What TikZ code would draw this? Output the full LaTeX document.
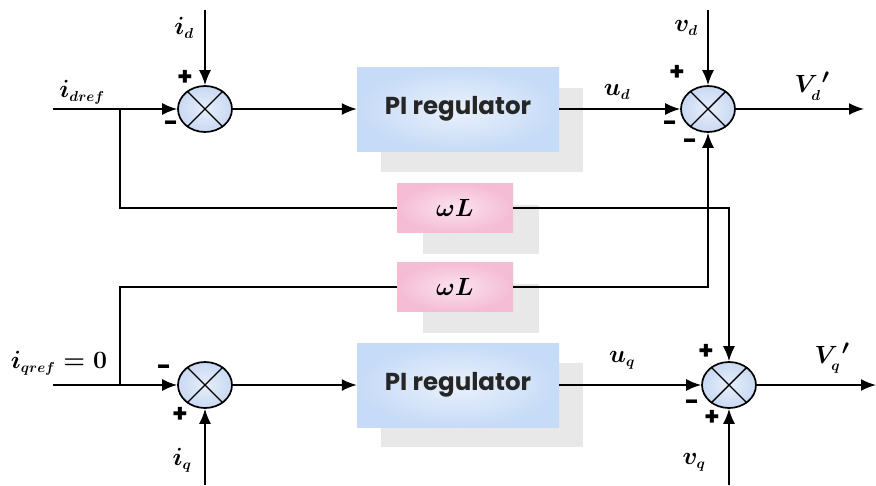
\documentclass[tikz,border=0pt]{standalone}
\usepackage{fontspec}
\newfontfamily\pifont{Poppins}
\newfontfamily\sgnfont{Poppins}
\usetikzlibrary{shapes.geometric,arrows.meta}
\definecolor{sumfill}{HTML}{C9D9F2}
\definecolor{sumin}{HTML}{E6EEFA}
\definecolor{piin}{HTML}{EAF1FC}
\definecolor{piout}{HTML}{C6DBF7}
\definecolor{wlin}{HTML}{FBE3EE}
\definecolor{wlout}{HTML}{F5BCD5}
\definecolor{shad}{HTML}{E8E8E8}
\tikzset{
  wire/.style={line width=1.7pt,black},
  arr/.style={wire,-{Latex[length=15pt,width=12pt]}},
  sumj/.style={ellipse,draw,line width=1.7pt,minimum width=54pt,minimum height=46pt,inner sep=0pt,inner color=sumin,outer color=sumfill},
  pibox/.style={rectangle,minimum width=202pt,minimum height=84pt,inner color=piin,outer color=piout,font=\pifont\bfseries\fontsize{24.5}{28}\selectfont,text=black!85},
  wlbox/.style={rectangle,minimum width=116pt,minimum height=49pt,inner color=wlin,outer color=wlout,font=\boldmath\fontsize{26}{30}\selectfont},
  shadowbox/.style={rectangle,fill=shad,inner sep=0pt},
  lbl/.style={font=\boldmath\fontsize{30}{34}\selectfont,inner sep=0pt},
  sgn/.style={font=\sgnfont\bfseries\fontsize{25}{28}\selectfont,inner sep=0pt}
}
\begin{document}
\begin{tikzpicture}[x=1pt,y=-1pt]
\useasboundingbox[fill=white] (0,0) rectangle (876,485);
% shadows
\node[shadowbox,minimum width=202pt,minimum height=84pt] (pi1s) at (482,130) {};
\node[shadowbox,minimum width=202pt,minimum height=84pt] (pi2s) at (482,405) {};
\node[shadowbox,minimum width=116pt,minimum height=49pt] (wl1s) at (481,229) {};
\node[shadowbox,minimum width=116pt,minimum height=49pt] (wl2s) at (481,308) {};
% blocks
\node[pibox] (pi1) at (458,109) {PI regulator};
\node[pibox] (pi2) at (458,385) {PI regulator};
\node[wlbox] (wl1) at (455,208) {$\omega L$};
\node[wlbox] (wl2) at (455,287) {$\omega L$};
% summing junctions
\node[sumj] (s1) at (205,109) {};
\node[sumj] (s2) at (708,109) {};
\node[sumj] (s3) at (205,385) {};
\node[sumj] (s4) at (729,385) {};
\foreach \s in {s1,s2,s3,s4}{
  \draw[line width=1.4pt] (\s.45) -- (\s.225) (\s.135) -- (\s.315);
}
% free ends
\coordinate (din) at (53,109);
\coordinate (bd) at (120,109);
\coordinate (qin) at (53,385);
\coordinate (bq) at (120,385);
\coordinate (idt) at (205,10);
\coordinate (iqb) at (205,485);
\coordinate (vdt) at (708,10);
\coordinate (vqb) at (729,485);
\coordinate (vdo) at (864,109);
\coordinate (vqo) at (876,385);
% connectors
\draw[arr] (din) -- (s1.west);
\draw[wire] (bd) |- (wl1.west);
\draw[arr] (idt) -- (s1.north);
\draw[arr] (s1.east) -- (pi1.west);
\draw[arr] (pi1.east) -- (s2.west);
\draw[arr] (vdt) -- (s2.north);
\draw[arr] (s2.east) -- (vdo);
\draw[arr] (wl2.east) -| (s2.south);
\draw[arr] (wl1.east) -| (s4.north);
\draw[arr] (qin) -- (s3.west);
\draw[wire] (bq) |- (wl2.west);
\draw[arr] (iqb) -- (s3.south);
\draw[arr] (s3.east) -- (pi2.west);
\draw[arr] (pi2.east) -- (s4.west);
\draw[arr] (vqb) -- (s4.south);
\draw[arr] (s4.east) -- (vqo);
% labels
\node[lbl] (lid) at (184,28) {$i_{\scriptscriptstyle d}$};
\node[lbl] (lidref) at (82,92) {$i_{\scriptscriptstyle dref}$};
\node[lbl] (liqref) at (59,363) {$i_{\scriptscriptstyle qref}=0$};
\node[lbl] (liq) at (182,460) {$i_{\scriptscriptstyle q}$};
\node[lbl] (lud) at (617,92) {$u_{\scriptscriptstyle d}$};
\node[lbl] (luq) at (622,360) {$u_{\scriptscriptstyle q}$};
\node[lbl] (lvd) at (686,28) {$v_{\scriptscriptstyle d}$};
\node[lbl] (lvq) at (694,462) {$v_{\scriptscriptstyle q}$};
\node[lbl] (lVd) at (812,86) {$V_{\scriptscriptstyle d}^{\,\prime}$};
\node[lbl] (lVq) at (832,358) {$V_{\scriptscriptstyle q}^{\,\prime}$};
% signs
\node[sgn] (p1) at (185,78) {+};
\node[sgn] (m1) at (171,126) {-};
\node[sgn] (p2) at (677,73) {+};
\node[sgn] (m2) at (670,126) {-};
\node[sgn] (m2b) at (690,144) {-};
\node[sgn] (m3) at (164,370) {-};
\node[sgn] (p3) at (180,415) {+};
\node[sgn] (p4) at (706,352) {+};
\node[sgn] (m4) at (692,405) {-};
\node[sgn] (p4b) at (712,418) {+};
\end{tikzpicture}
\end{document}
